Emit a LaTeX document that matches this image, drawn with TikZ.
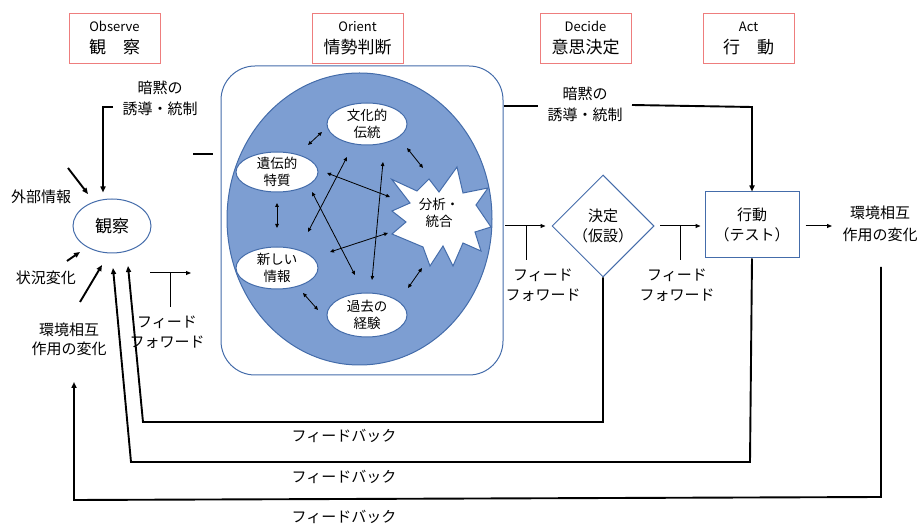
\documentclass[tikz,border=0pt]{standalone}
\usepackage{fontspec}
\setmainfont{Noto Sans CJK JP}
\usetikzlibrary{arrows.meta,shapes.geometric}
\definecolor{pinkb}{RGB}{238,125,125}
\definecolor{blueb}{RGB}{68,108,170}
\definecolor{bluef}{RGB}{125,158,210}
\begin{document}
\begin{tikzpicture}[x=1pt,y=-1pt,
  hdr/.style={draw=pinkb,line width=0.9pt,minimum width=91pt,minimum height=50pt,inner sep=0pt,align=center,font=\fontsize{17}{22}\selectfont},
  lbl/.style={align=center,inner sep=0pt,font=\fontsize{15}{21}\selectfont},
  oval/.style={ellipse,draw=blueb,line width=1pt,fill=white,inner sep=0pt},
  otext/.style={align=center,inner sep=0pt,font=\fontsize{13.5}{17.5}\selectfont},
  thk/.style={line width=1.9pt},
  arr/.style={-{Triangle[length=6pt,width=5pt]}},
  sarr/.style={-{Triangle[length=5pt,width=4pt]}},
  dbl/.style={line width=0.8pt,{Triangle[length=4pt,width=3.5pt]}-{Triangle[length=4pt,width=3.5pt]}},
  ffl/.style={line width=1pt},
]
\useasboundingbox (0,0) rectangle (919,526);

% header boxes
\node[hdr] (hObs) at (114.5,38) {{\fontsize{13}{22}\selectfont Observe}\\観\quad 察};
\node[hdr] (hOri) at (357.5,38) {{\fontsize{13}{22}\selectfont Orient}\\情勢判断};
\node[hdr] (hDec) at (585.5,38) {{\fontsize{13}{22}\selectfont Decide}\\意思決定};
\node[hdr] (hAct) at (748.5,38) {{\fontsize{13}{22}\selectfont Act}\\行\quad 動};

% orient frame
\node[draw=blueb,line width=1pt,rounded corners=34pt,minimum width=282pt,minimum height=309pt,inner sep=0pt] (orb) at (362,220.5) {};
\node[ellipse,draw=blueb,line width=1pt,fill=bluef,minimum width=265pt,minimum height=292pt,inner sep=0pt] (oell) at (359.5,219) {};

% inner ovals
\node[oval,minimum width=80pt,minimum height=42pt] (bunka) at (367,124) {};
\node[otext] (bunkaT) at (bunka) {文化的\\伝統};
\node[oval,minimum width=82pt,minimum height=40pt] (iden) at (277,172) {};
\node[otext] (idenT) at (iden) {遺伝的\\特質};
\node[oval,minimum width=82pt,minimum height=42pt] (atara) at (277,268) {};
\node[otext] (ataraT) at (atara) {新しい\\情報};
\node[oval,minimum width=80pt,minimum height=44pt] (kako) at (367,315) {};
\node[otext] (kakoT) at (kako) {過去の\\経験};

% starburst
\draw[draw=blueb,fill=white,line width=1pt]
  (391.7,179.3) -- (417,191) -- (429,179) -- (439,192) -- (457,167) -- (463,193)
  -- (488,188) -- (476,205) -- (491,227) -- (475,232) -- (481,251) -- (463,243)
  -- (453,266) -- (443,246) -- (430,266) -- (423,247) -- (392,234) -- (406,222)
  -- (392,211) -- (410,203) -- cycle;
\node[otext] (bunseki) at (439,213) {分析・\\統合};

% inner double arrows
\coordinate (a1) at (308,145); \coordinate (b1) at (322,132);
\coordinate (a2) at (407,148); \coordinate (b2) at (423,168);
\coordinate (a3) at (277,203); \coordinate (b3) at (277,228);
\coordinate (a4) at (303,293); \coordinate (b4) at (318,310);
\coordinate (a5) at (408,288); \coordinate (b5) at (422,268);
\coordinate (a6) at (327,173); \coordinate (b6) at (390,197);
\coordinate (a7) at (330,252); \coordinate (b7) at (388,233);
\coordinate (a8) at (308,232); \coordinate (b8) at (347,157);
\coordinate (a9) at (312,192); \coordinate (b9) at (355,275);
\coordinate (a10) at (383,162); \coordinate (b10) at (372,280);
\foreach \i in {1,...,10} {\draw[dbl] (a\i) -- (b\i);}

% observe
\node[ellipse,draw=blueb,line width=1pt,minimum width=78pt,minimum height=54pt,inner sep=0pt,font=\fontsize{17}{20}\selectfont] (obs) at (112,226) {観察};
\node[lbl] (tacL) at (160,98) {暗黙の\\誘導・統制};
\node[lbl] (ext) at (41,197) {外部情報};
\node[lbl] (sit) at (46,278) {状況変化};
\node[lbl,font=\fontsize{15}{19}\selectfont] (envL) at (69,339) {環境相互\\作用の変化};
\node[lbl,font=\fontsize{15}{20}\selectfont] (ff1T) at (167,332) {フィード\\フォワード};

% decide / act
\node[diamond,draw=blueb,line width=1pt,aspect=1,minimum width=102pt,minimum height=102pt,inner sep=0pt,align=center,font=\fontsize{15}{20}\selectfont] (dec) at (603,226) {決定\\（仮設）};
\node[draw=blueb,line width=1pt,minimum width=94pt,minimum height=66pt,inner sep=0pt,align=center,font=\fontsize{15}{20}\selectfont] (act) at (752,225) {行動\\（テスト）};
\node[lbl,font=\fontsize{15}{22}\selectfont] (envR) at (880,224) {環境相互\\作用の変化};
\node[lbl] (tacR) at (585,104) {暗黙の\\誘導・統制};
\node[lbl,font=\fontsize{15}{20}\selectfont] (ff2T) at (543,285) {フィード\\フォワード};
\node[lbl,font=\fontsize{15}{20}\selectfont] (ff3T) at (677,285) {フィード\\フォワード};

% feedback labels
\node[lbl] (fbT1) at (344,436) {フィードバック};
\node[lbl] (fbT2) at (344,477) {フィードバック};
\node[lbl] (fbT3) at (344,517) {フィードバック};

% tacit control (left)
\coordinate (tL1) at (113,107); \coordinate (tL2) at (103,107);
\draw[thk,arr,shorten >=6pt] (tL1) -- (tL2) -- (tL2 |- obs.north);
\coordinate (dA) at (193,154); \coordinate (dB) at (213,154);
\draw[thk] (dA) -- (dB);

% tacit control (right)
\coordinate (tR1) at (538,106); \coordinate (tR2) at (632,105); \coordinate (tR3) at (752,107);
\draw[thk] (orb.east |- tR1) -- (tR1);
\draw[thk,arr] (tR2) -- (tR3) -- (act.north);

% inputs to observe
\coordinate (e1) at (68,168); \coordinate (e2) at (88,194);
\draw[thk,arr] (e1) -- (e2);
\coordinate (s1) at (67,261); \coordinate (s2) at (80,252);
\draw[thk,arr] (s1) -- (s2);
\coordinate (s3) at (80,302); \coordinate (s4) at (102,265);
\draw[thk,arr] (s3) -- (s4);

% feedforward 1
\coordinate (f1a) at (150,273); \coordinate (f1b) at (191,273);
\coordinate (f1m) at (170,273); \coordinate (f1d) at (170,307);
\draw[ffl,sarr] (f1a) -- (f1b);
\draw[ffl] (f1m) -- (f1d);
% feedforward 2
\coordinate (f2a) at (505,226); \coordinate (f2m) at (526,226); \coordinate (f2d) at (526,260);
\draw[ffl,sarr,shorten >=6pt] (f2a) -- (dec.west);
\draw[ffl] (f2m) -- (f2d);
% feedforward 3
\coordinate (f3a) at (660,226); \coordinate (f3m) at (680,226); \coordinate (f3d) at (680,260);
\draw[ffl,sarr,shorten >=4pt] (f3a) -- (act.west |- f3a);
\draw[ffl] (f3m) -- (f3d);
% act to environment
\coordinate (ae) at (832,226);
\draw[ffl,sarr,shorten <=6pt] (act.east |- ae) -- (ae);

% feedback loops
\coordinate (fb1a) at (603,422); \coordinate (fb1b) at (143,422); \coordinate (fb1c) at (128,266);
\draw[thk,arr] (dec.south) -- (fb1a) -- (fb1b) -- (fb1c);
\coordinate (fb2a) at (750,462); \coordinate (fb2b) at (131,462); \coordinate (fb2c) at (113,268);
\draw[thk,arr] (act.south) -- (fb2a) -- (fb2b) -- (fb2c);
\coordinate (fb3s) at (881,267); \coordinate (fb3a) at (881,497); \coordinate (fb3b) at (74,500); \coordinate (fb3c) at (74,382);
\draw[thk,arr] (fb3s) -- (fb3a) -- (fb3b) -- (fb3c);
\end{tikzpicture}
\end{document}
